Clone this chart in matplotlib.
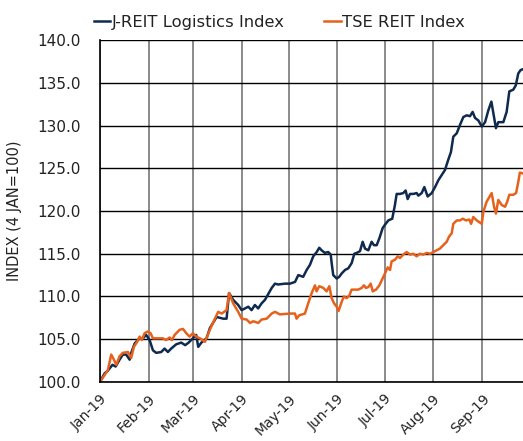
import numpy as np
import pandas as pd
import matplotlib
matplotlib.use("Agg")
import matplotlib.pyplot as plt

# days since 1 Jan 2019, index values
logistics_days = [0, 3, 5, 8, 10, 12.5, 14.6, 16.7, 18.9, 19.9, 22.1, 25.2, 27.3, 29.4, 31.6,
                  33.7, 35.8, 39, 41.1, 43.2, 45.3, 48.5, 51.7, 54.2, 56.4, 59.1, 61.2, 62.5,
                  64.5, 67.8, 69.9, 74.2, 78.4, 80.5, 82.1, 84.7, 87.9, 90.1, 92.2, 94.3, 96.4,
                  98.5, 100.6, 102.8, 104.9, 107.4, 109.2, 111.3, 113.3, 117.6, 120.8, 124,
                  126.1, 129.2, 131.4, 133.5, 135.6, 137.8, 139.4, 140.9, 143, 145.1, 146.7,
                  147.3, 148.3, 150.5, 152.1, 153.7, 155.8, 157.9, 160, 161.7, 163.2, 165.3,
                  167, 168.5, 170.6, 172.7, 174.2, 175.9, 177.6, 179.7, 181.2, 183.3, 185.8,
                  187.5, 188.6, 190.7, 192.8, 194.3, 195.6, 197.1, 199.2, 201.3, 202.4, 204.5,
                  206.2, 208.3, 210.9, 213, 215.1, 217.2, 219.3, 221.4, 223.1, 224.6, 226.8,
                  228.9, 231, 233.1, 235.2, 236.9, 238.4, 240.5, 242.7, 244.8, 246.9, 248.8,
                  250.5, 251.7, 253.2, 256.4, 258.5, 260.2, 262.7, 264.3, 265.9, 267.4, 268.9]
logistics_vals = [100.0, 101.0, 101.3, 102.0, 101.8, 102.6, 103.2, 103.2, 102.6, 103.4, 104.5,
                  105.1, 105.1, 105.5, 104.9, 103.7, 103.4, 103.5, 103.9, 103.5, 103.9, 104.4,
                  104.6, 104.3, 104.6, 105.1, 105.5, 104.1, 104.6, 105.1, 106.3, 107.6, 107.4,
                  107.4, 110.4, 109.6, 109.0, 108.4, 108.6, 108.8, 108.4, 109.0, 108.6, 109.2,
                  109.6, 110.4, 111.0, 111.5, 111.4, 111.5, 111.5, 111.7, 112.5, 112.3, 113.1,
                  113.7, 114.7, 115.2, 115.7, 115.4, 115.1, 115.2, 114.9, 113.9, 112.5, 112.1,
                  112.3, 112.7, 113.1, 113.3, 113.9, 115.0, 115.1, 115.3, 116.4, 115.6, 115.4,
                  116.4, 116.0, 116.0, 116.8, 118.0, 118.4, 118.9, 119.1, 120.7, 122.0, 122.0,
                  122.1, 122.4, 121.4, 122.0, 122.0, 122.1, 121.8, 122.1, 122.8, 121.7, 122.1,
                  122.8, 123.6, 124.2, 124.8, 126.0, 126.9, 128.7, 129.1, 130.1, 131.0, 131.2,
                  131.1, 131.6, 130.9, 130.6, 129.9, 130.4, 131.8, 132.8, 131.0, 129.7, 130.4,
                  130.4, 131.6, 134.0, 134.2, 134.7, 136.1, 136.5, 136.6]

tse_days = [0, 3, 5.1, 7.2, 8.9, 10.4, 12.5, 14.6, 17.8, 19.9, 21.6, 23.7, 25.2, 26.7, 28.4,
            30.5, 32.2, 33.7, 36.9, 40, 42.1, 44.3, 45.8, 47.5, 50.7, 52.8, 54.9, 57, 59.1,
            61.2, 63.6, 66.8, 69.9, 73.1, 75.2, 77.4, 80.5, 82.1, 84.7, 87.9, 90.1, 93.3, 95.4,
            97.5, 100.6, 102.8, 106, 109.2, 111.3, 114.4, 120.8, 124, 125, 126.7, 130.3, 132.4,
            134.6, 136.7, 137.7, 139.4, 142, 144.1, 145.8, 147.3, 148.8, 150.5, 151.7, 153.7,
            155.1, 156.8, 158.5, 160, 162.1, 164.2, 166.4, 167.8, 169.1, 170.6, 172.1, 173.4,
            175.5, 177.6, 179.7, 181.2, 182.9, 184.4, 185.4, 187.5, 189.3, 190.7, 192.8, 195,
            197.1, 199.2, 201.3, 203.4, 205.5, 207.7, 209.8, 211.9, 214, 216.1, 218.2, 220.4,
            221.9, 223.6, 224.6, 226.8, 228.9, 230.6, 232.7, 234.8, 235.9, 237.3, 239.5, 242.7,
            243.7, 245.8, 249, 250.5, 251.7, 253.2, 255.4, 257.5, 258.9, 260.2, 262.7, 264.5,
            265.9, 266.9, 268.9]
tse_vals = [100.0, 100.8, 101.4, 103.2, 102.6, 102.0, 103.0, 103.4, 103.5, 102.8, 104.1, 104.7,
            105.3, 104.9, 105.7, 105.9, 105.7, 105.1, 105.1, 105.1, 104.9, 105.2, 104.9, 105.5,
            106.1, 106.2, 105.7, 105.3, 105.7, 105.3, 105.1, 104.7, 106.1, 107.4, 108.2, 108.0,
            108.4, 110.4, 109.2, 108.2, 107.4, 107.3, 106.9, 107.1, 106.9, 107.3, 107.4, 108.0,
            108.2, 107.9, 108.0, 108.0, 107.4, 107.8, 108.0, 109.2, 110.4, 111.3, 110.6, 111.2,
            111.0, 110.6, 111.2, 109.8, 109.2, 108.8, 108.3, 109.4, 110.0, 109.8, 110.1, 110.8,
            110.8, 110.8, 111.0, 111.3, 111.0, 111.1, 111.5, 110.6, 110.8, 111.3, 112.1, 112.7,
            113.4, 113.1, 114.1, 114.3, 114.7, 114.5, 114.9, 115.2, 114.9, 115.0, 114.7, 115.0,
            114.9, 115.1, 115.0, 115.2, 115.4, 115.6, 116.0, 116.4, 117.0, 117.4, 118.5, 118.9,
            118.9, 119.1, 118.9, 119.0, 118.5, 119.3, 118.9, 118.5, 119.9, 121.1, 122.1, 120.5,
            119.7, 121.3, 120.7, 120.5, 121.1, 121.9, 121.9, 122.1, 123.4, 124.5, 124.4]

month_ticks = ["2019-01-01", "2019-02-01", "2019-03-01", "2019-04-01", "2019-05-01",
               "2019-06-01", "2019-07-01", "2019-08-01", "2019-09-01"]
month_labels = ["Jan-19", "Feb-19", "Mar-19", "Apr-19", "May-19", "Jun-19", "Jul-19",
                "Aug-19", "Sep-19"]
y_ticks = [100, 105, 110, 115, 120, 125, 130, 135, 140]

start = pd.Timestamp("2019-01-01")
log_dates = start + pd.to_timedelta(logistics_days, unit="D")
tse_dates = start + pd.to_timedelta(tse_days, unit="D")

fig = plt.figure(figsize=(5.23, 4.41), dpi=100)
ax = fig.add_axes([0.191, 0.134, 0.809, 0.775])

navy = "#0f2a4e"
orange = "#e6611c"
ax.plot(log_dates, logistics_vals, color=navy, lw=1.8, label="J-REIT Logistics Index")
ax.plot(tse_dates, tse_vals, color=orange, lw=1.8, label="TSE REIT Index")

ax.set_xlim(start, start + pd.Timedelta(days=268.9))
ax.set_ylim(100, 140)
ax.set_yticks(y_ticks)
ax.set_yticklabels([f"{v:.1f}" for v in y_ticks])
ax.set_xticks(pd.to_datetime(month_ticks))
ax.set_xticklabels(month_labels, rotation=45, ha="right", rotation_mode="anchor")
ax.tick_params(axis="y", length=0, pad=14, labelsize=11, colors="#222222")
ax.tick_params(axis="x", length=0, pad=7, labelsize=10, colors="#222222")

ax.grid(axis="y", color="black", lw=1.0)
ax.grid(axis="x", color="#777777", lw=1.2)
ax.set_axisbelow(True)
for side in ["top", "right"]:
    ax.spines[side].set_visible(False)
ax.spines["left"].set_color("black")
ax.spines["bottom"].set_color("black")
ax.spines["left"].set_linewidth(1.2)
ax.spines["bottom"].set_linewidth(1.2)

ax.set_ylabel("INDEX (4 JAN=100)", fontsize=10.5, color="#222222", labelpad=11)

ax.legend(loc="lower left", bbox_to_anchor=(-0.03, 1.01), ncol=2, frameon=False,
          fontsize=11.8, handlelength=1.0, handletextpad=0.1, columnspacing=2.4,
          borderaxespad=0, labelcolor="#222222")

fig.savefig("out.png", dpi=100)
